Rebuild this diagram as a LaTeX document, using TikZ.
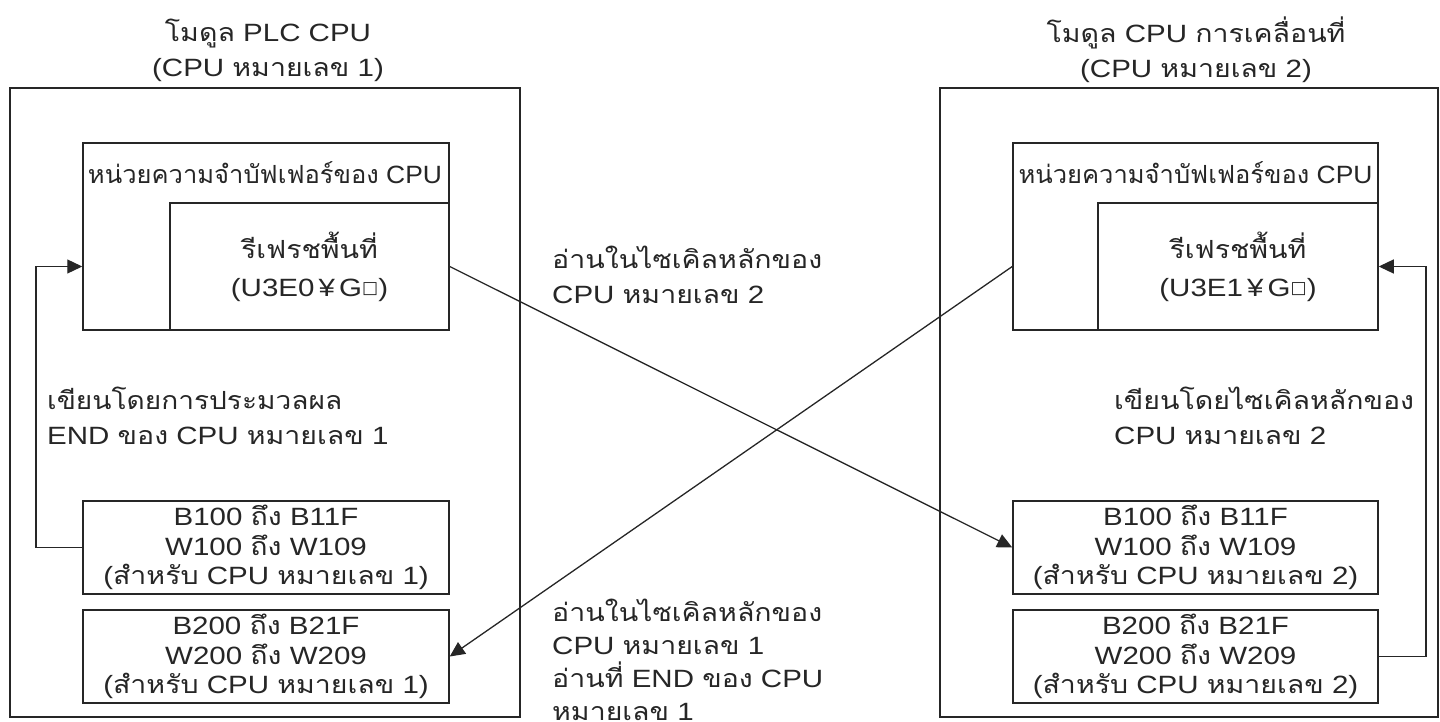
\documentclass[tikz,border=0pt]{standalone}
\usepackage{fontspec}
\usepackage{graphicx}
\setmainfont{Liberation Sans}[FakeStretch=1.18]
\newfontfamily\thaifont[Script=Thai,FakeStretch=1.14]{Loma}
\newfontfamily\symfont{DejaVu Sans}
\newcommand\T[1]{{\thaifont #1}}
\newcommand\sqbox{\raisebox{3pt}{\symfont\fontsize{17}{17}\selectfont □}}
\usetikzlibrary{arrows.meta}
\begin{document}
\begin{tikzpicture}[x=1pt,y=-1pt,
  font=\fontsize{25}{35}\selectfont,
  box/.style={draw=black!85,line width=1.5pt,rectangle,inner sep=0pt},
  outer/.style={draw=black!85,line width=1.3pt,rectangle,inner sep=0pt},
  txt/.style={inner sep=0pt,text=black!85},
  dev/.style={box,minimum height=93pt,align=center,font=\fontsize{25}{29.5}\selectfont,text=black!85},
  conn/.style={draw=black!85,line width=1.3pt,-{Triangle[length=15pt,width=14pt]}}
]
\useasboundingbox (0,0) rectangle (1440,722);
% outer boxes
\node[outer,minimum width=510pt,minimum height=629pt] (outL) at (265,402.5) {};
\node[outer,minimum width=498pt,minimum height=629pt] (outR) at (1189,402.5) {};
% titles
\node[txt,align=center] (titL) at (268,50) {\T{โมดูล} PLC CPU\\(CPU \T{หมายเลข} 1)};
\node[txt,align=center] (titR) at (1196,50) {\T{โมดูล} CPU \T{การเคลื่อนที่}\\(CPU \T{หมายเลข} 2)};
% buffer boxes
\node[box,minimum width=366pt,minimum height=187pt] (bufL) at (266,236.5) {};
\node[box,minimum width=279pt,minimum height=127pt] (refL) at (309.5,266.5) {};
\node[txt] (hdrL) at (265,173) {\resizebox{354pt}{\height}{\T{หน่วยความจำบัฟเฟอร์ของ} CPU}};
\node[txt,align=center,font=\fontsize{25}{38}\selectfont] (refLt) at (refL.center) {\T{รีเฟรชพื้นที่}\\(U3E0\,¥\,G\sqbox)};
\node[box,minimum width=365pt,minimum height=187pt] (bufR) at (1195.5,236.5) {};
\node[box,minimum width=280pt,minimum height=127pt] (refR) at (1238,266.5) {};
\node[txt] (hdrR) at (1195.5,173) {\resizebox{354pt}{\height}{\T{หน่วยความจำบัฟเฟอร์ของ} CPU}};
\node[txt,align=center,font=\fontsize{25}{38}\selectfont] (refRt) at (refR.center) {\T{รีเฟรชพื้นที่}\\(U3E1\,¥\,G\sqbox)};
% device boxes
\node[dev,minimum width=366pt] (b1L) at (266,547.5) {B100 \T{ถึง} B11F\\W100 \T{ถึง} W109\\(\T{สำหรับ} CPU \T{หมายเลข} 1)};
\node[dev,minimum width=366pt] (b2L) at (266,656.5) {B200 \T{ถึง} B21F\\W200 \T{ถึง} W209\\(\T{สำหรับ} CPU \T{หมายเลข} 1)};
\node[dev,minimum width=365pt] (b1R) at (1195.5,547.5) {B100 \T{ถึง} B11F\\W100 \T{ถึง} W109\\(\T{สำหรับ} CPU \T{หมายเลข} 2)};
\node[dev,minimum width=365pt] (b2R) at (1195.5,656.5) {B200 \T{ถึง} B21F\\W200 \T{ถึง} W209\\(\T{สำหรับ} CPU \T{หมายเลข} 2)};
% notes
\node[txt,align=left,anchor=west] (noteL) at (47,415.5) {\resizebox{295pt}{\height}{\T{เขียนโดยการประมวลผล}}\\END \T{ของ} CPU \T{หมายเลข} 1};
\node[txt,align=left,anchor=west] (noteR) at (1114,415.5) {\T{เขียนโดยไซเคิลหลักของ}\\CPU \T{หมายเลข} 2};
\node[txt,align=left,anchor=west] (midT) at (552,275) {\T{อ่านในไซเคิลหลักของ}\\CPU \T{หมายเลข} 2};
\node[txt,align=left,anchor=west,font=\fontsize{25}{33}\selectfont] (midB) at (552,660) {\T{อ่านในไซเคิลหลักของ}\\CPU \T{หมายเลข} 1\\\T{อ่านที่} END \T{ของ} CPU\\\T{หมายเลข} 1};
% connectors
\coordinate (fbL) at (36,547.5);
\coordinate (fbR) at (1426,656.5);
\draw[conn] (b1L.west) -- (fbL) |- (bufL.west |- refL.center);
\draw[conn] (b2R.east) -- (fbR) |- (refR.east);
\draw[conn] (refL.east) -- (b1R.west);
\draw[conn] (bufR.west |- refR.center) -- (b2L.east);
\end{tikzpicture}
\end{document}
